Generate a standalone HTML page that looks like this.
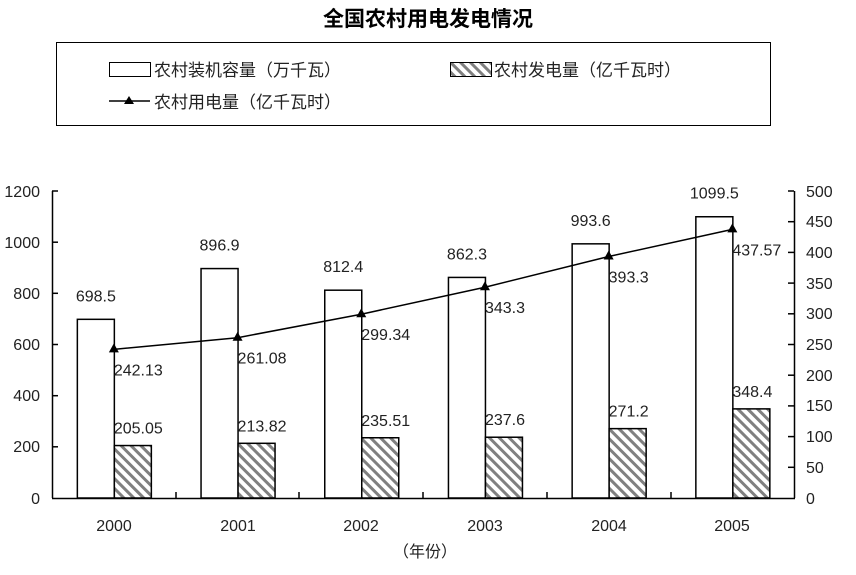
<!DOCTYPE html>
<html><head><meta charset="utf-8"><style>
body{margin:0;background:#fff}
text{font-family:"Liberation Sans","Noto Sans CJK SC",sans-serif;font-size:16px;fill:#222}
</style></head><body>
<svg width="856" height="570" xmlns="http://www.w3.org/2000/svg">
<defs><pattern id="h" width="7" height="7" patternUnits="userSpaceOnUse" patternTransform="rotate(-45)">
<rect width="7" height="7" fill="#fff"/><rect x="0" y="0" width="3" height="7" fill="#808080"/></pattern></defs>
<text x="428" y="26" text-anchor="middle" style="font-size:21px;font-weight:bold;fill:#000">全国农村用电发电情况</text>
<rect x="56.5" y="42.5" width="714" height="83" fill="none" stroke="#000"/>
<rect x="109.5" y="62.5" width="41" height="14" fill="#fff" stroke="#000"/>
<text x="154" y="76" style="font-size:17px">农村装机容量（万千瓦）</text>
<rect x="450.5" y="62.5" width="41" height="14" fill="url(#h)" stroke="#000"/>
<text x="494" y="76" style="font-size:17px">农村发电量（亿千瓦时）</text>
<line x1="109" y1="101" x2="150" y2="101" stroke="#000" stroke-width="1.5"/>
<polygon points="129,96 134,104 124,104" fill="#000"/>
<text x="154" y="108" style="font-size:17px">农村用电量（亿千瓦时）</text>
<g id="chart"></g>
<line x1="52.5" y1="191" x2="52.5" y2="498" stroke="#000" stroke-width="1.5"/>
<line x1="794.5" y1="191" x2="794.5" y2="498" stroke="#000" stroke-width="1.5"/>
<line x1="52" y1="498.5" x2="795" y2="498.5" stroke="#000" stroke-width="1.5"/>
<g stroke="#000" stroke-width="1.5">
<line x1="52" y1="191" x2="58" y2="191"/><line x1="52" y1="242.2" x2="58" y2="242.2"/><line x1="52" y1="293.3" x2="58" y2="293.3"/><line x1="52" y1="344.5" x2="58" y2="344.5"/><line x1="52" y1="395.7" x2="58" y2="395.7"/><line x1="52" y1="446.8" x2="58" y2="446.8"/>
<line x1="788" y1="191" x2="794" y2="191"/><line x1="788" y1="221.7" x2="794" y2="221.7"/><line x1="788" y1="252.4" x2="794" y2="252.4"/><line x1="788" y1="283.1" x2="794" y2="283.1"/><line x1="788" y1="313.8" x2="794" y2="313.8"/><line x1="788" y1="344.5" x2="794" y2="344.5"/><line x1="788" y1="375.2" x2="794" y2="375.2"/><line x1="788" y1="405.9" x2="794" y2="405.9"/><line x1="788" y1="436.6" x2="794" y2="436.6"/><line x1="788" y1="467.3" x2="794" y2="467.3"/>
<line x1="176" y1="492" x2="176" y2="498"/><line x1="299" y1="492" x2="299" y2="498"/><line x1="423" y1="492" x2="423" y2="498"/><line x1="547" y1="492" x2="547" y2="498"/><line x1="671" y1="492" x2="671" y2="498"/>
</g>
<g text-anchor="end">
<text x="40" y="197">1200</text><text x="40" y="248">1000</text><text x="40" y="299">800</text><text x="40" y="350">600</text><text x="40" y="401">400</text><text x="40" y="452">200</text><text x="40" y="504">0</text>
</g>
<g>
<text x="806" y="197">500</text><text x="806" y="227">450</text><text x="806" y="258">400</text><text x="806" y="289">350</text><text x="806" y="319">300</text><text x="806" y="350">250</text><text x="806" y="381">200</text><text x="806" y="411">150</text><text x="806" y="442">100</text><text x="806" y="473">50</text><text x="806" y="504">0</text>
</g>
<g text-anchor="middle">
<text x="114" y="531">2000</text><text x="238" y="531">2001</text><text x="361" y="531">2002</text><text x="485" y="531">2003</text><text x="609" y="531">2004</text><text x="732" y="531">2005</text>
<text x="425" y="557">（年份）</text>
</g>
<script>
var g=document.getElementById('chart'),ns='http://www.w3.org/2000/svg';
var a=[698.5,896.9,812.4,862.3,993.6,1099.5],b=[205.05,213.82,235.51,237.6,271.2,348.4],c=[242.13,261.08,299.34,343.3,393.3,437.57];
function el(t,o,txt){var e=document.createElementNS(ns,t);for(var k in o)e.setAttribute(k,o[k]);if(txt)e.textContent=txt;g.appendChild(e);return e;}
var pts=[];
for(var i=0;i<6;i++){var cx=52+123.7*(i+0.5);
var ya=498-a[i]*0.2558,yb=498-b[i]*0.2558,yc=498-c[i]*0.614;
el('rect',{x:cx-37+0.5,y:ya,width:37,height:498-ya,fill:'#fff',stroke:'#000','stroke-width':1.5});
el('rect',{x:cx+0.5,y:yb,width:37,height:498-yb,fill:'url(#h)',stroke:'#000','stroke-width':1.5});
el('text',{x:cx-18,y:ya-18,'text-anchor':'middle'},String(a[i]));
el('text',{x:cx,y:yb-12},String(b[i]));
pts.push(cx+','+yc);}
el('polyline',{points:pts.join(' '),fill:'none',stroke:'#000','stroke-width':1.5});
for(var i=0;i<6;i++){var cx=52+123.7*(i+0.5),yc=498-c[i]*0.614;
el('polygon',{points:cx+','+(yc-6)+' '+(cx+5)+','+(yc+3)+' '+(cx-5)+','+(yc+3),fill:'#000'});
el('text',{x:cx,y:yc+26},String(c[i]));}
</script>
</svg>
</body></html>
